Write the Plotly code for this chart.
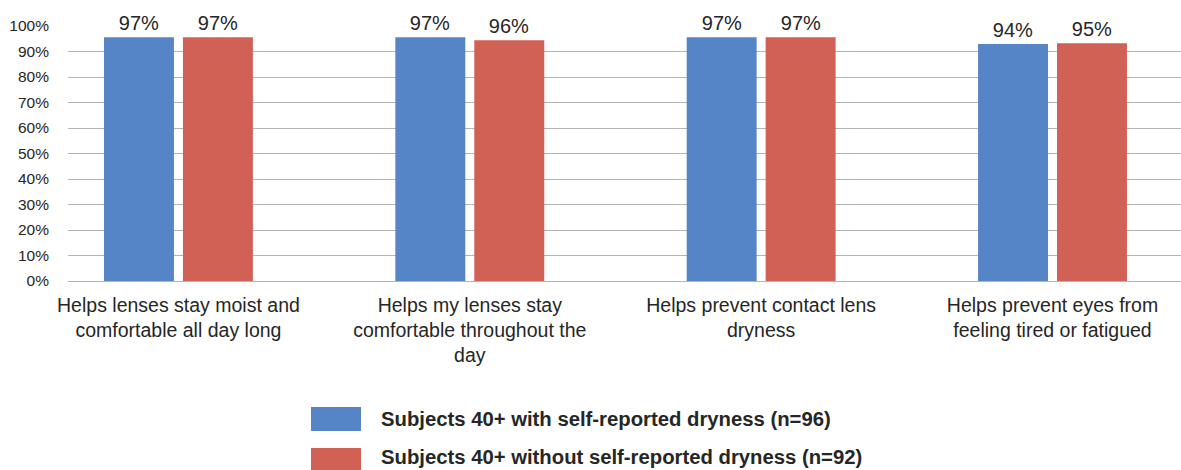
import plotly.graph_objects as go

categories = [
    "Helps lenses stay moist and<br>comfortable all day long",
    "Helps my lenses stay<br>comfortable throughout the<br>day",
    "Helps prevent contact lens<br>dryness",
    "Helps prevent eyes from<br>feeling tired or fatigued",
]
series_names = [
    "Subjects 40+ with self-reported dryness (n=96)",
    "Subjects 40+ without self-reported dryness (n=92)",
]
with_dryness = [95.6, 95.6, 95.6, 92.9]
without_dryness = [95.6, 94.4, 95.6, 93.2]
with_labels = ["97%", "97%", "97%", "94%"]
without_labels = ["97%", "96%", "97%", "95%"]
y_ticks = [0, 10, 20, 30, 40, 50, 60, 70, 80, 90, 100]
y_ticktext = [f"{v}%" for v in y_ticks]

BLUE = "#5585c6"
RED = "#d16055"
TEXT = "#262626"
FONT = "Liberation Sans, Arial, sans-serif"

W, H = 1181, 470
ML, MR, MT, MB = 68, 0, 26, 189
X_RANGE = [-0.379, 3.441]
BARGAP = 0.458
BARGROUPGAP = 0.114

px_per_cat = (W - ML - MR) / (X_RANGE[1] - X_RANGE[0])
shift = px_per_cat * (1 - BARGAP) / 4
bar_w = px_per_cat * (1 - BARGAP) / 2 * (1 - BARGROUPGAP)

fig = go.Figure()
fig.add_trace(go.Bar(x=categories, y=with_dryness, name=series_names[0],
                     marker=dict(color=BLUE, line=dict(width=0)), showlegend=False))
fig.add_trace(go.Bar(x=categories, y=without_dryness, name=series_names[1],
                     marker=dict(color=RED, line=dict(width=0)), showlegend=False))

annotations = []
for vals, labs, sgn in ((with_dryness, with_labels, -1), (without_dryness, without_labels, 1)):
    for c, v, t in zip(categories, vals, labs):
        annotations.append(dict(
            x=c, y=v, xref="x", yref="y", text=t, showarrow=False,
            xanchor="center", yanchor="bottom", xshift=sgn * shift, yshift=1,
            bgcolor="white", width=bar_w - 2, borderpad=1,
            font=dict(family=FONT, size=20, color=TEXT),
        ))

plot_h = H - MT - MB
def py(pix):
    return (MT + plot_h - pix) / plot_h
def px(pix):
    return (pix - ML) / (W - ML - MR)

shapes = []
legend_rows = [(BLUE, series_names[0], 407, 431, 419), (RED, series_names[1], 448, 472, 457)]
for col, name, top, bot, mid in legend_rows:
    shapes.append(dict(type="rect", xref="paper", yref="paper",
                       x0=px(311), x1=px(361), y0=py(bot), y1=py(top),
                       fillcolor=col, line=dict(width=0), layer="above"))
    annotations.append(dict(
        x=px(379), y=py(mid), xref="paper", yref="paper",
        text=f"<b>{name}</b>", showarrow=False, xanchor="left", yanchor="middle",
        font=dict(family=FONT, size=20.3, color=TEXT),
    ))

fig.update_layout(
    width=W, height=H,
    margin=dict(l=ML, r=MR, t=MT, b=MB),
    paper_bgcolor="white", plot_bgcolor="white",
    barmode="group", bargap=BARGAP, bargroupgap=BARGROUPGAP,
    font=dict(family=FONT, color=TEXT),
    showlegend=False,
    annotations=annotations,
    shapes=shapes,
)
fig.update_xaxes(range=X_RANGE, showgrid=False, showline=False, ticks="",
                 tickfont=dict(family=FONT, size=19.5, color=TEXT),
                 ticklabelstandoff=10, tickangle=0)
fig.update_yaxes(range=[0, 100], tickvals=y_ticks, ticktext=y_ticktext,
                 showgrid=True, gridcolor="#b4b4b4", gridwidth=1.3,
                 zeroline=True, zerolinecolor="#b4b4b4", zerolinewidth=1.3,
                 showline=False, ticks="", ticklabelstandoff=18,
                 tickfont=dict(family=FONT, size=15.5, color=TEXT))

fig.write_html("out.html")
